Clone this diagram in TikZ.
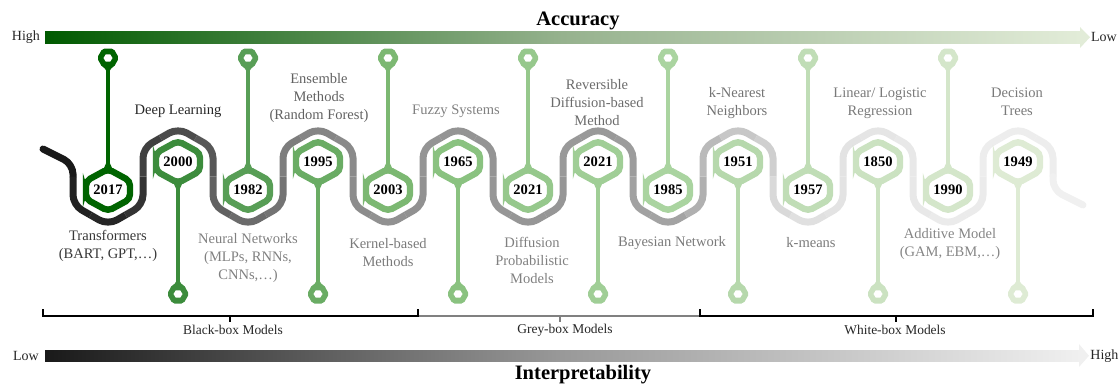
\documentclass[tikz,border=0pt]{standalone}
\usepackage{fontspec}
\setmainfont{Liberation Serif}

\definecolor{accdark}{RGB}{0,90,0}
\definecolor{accmid}{RGB}{150,178,142}
\definecolor{acclight}{RGB}{226,236,216}

\tikzset{
	snake/.style={line width=5.25pt, rounded corners=7.5pt},
	badge/.style={line width=4.8pt, rounded corners=3.5pt, fill=white, draw=#1},
	stem/.style={line width=2.4pt},
	lbl/.style={align=center, font=\fontsize{10.9}{13.5}\selectfont},
	year/.style={font=\fontsize{10.9}{13}\selectfont\bfseries, text=black},
	brace/.style={line width=1.4pt},
	axislbl/.style={font=\fontsize{15.4}{18}\selectfont\bfseries},
	endlbl/.style={font=\fontsize{10.5}{12}\selectfont, text=black!85}
}

\begin{document}
\begin{tikzpicture}[x=0.75pt,y=-0.75pt]
	\useasboundingbox (0,0) rectangle (1120,386);
	
	% accuracy arrow
	\shade[left color=accdark, right color=acclight, middle color=accmid] (45,31.5) rectangle (1080,43);
	\fill[acclight] (1080,27) -- (1090,37.25) -- (1080,48) -- cycle;
	\node[endlbl] (acchigh) at (26,37) {High};
	\node[endlbl] (acclow) at (1104,37) {Low};
	\node[axislbl] (acc) at (578,21) {Accuracy};
	
	% interpretability arrow
	\shade[left color=black!90, right color=black!6, middle color=black!40] (45,350) rectangle (1079,361.5);
	\fill[black!6] (1079,344) -- (1089,355.75) -- (1079,367) -- cycle;
	\node[endlbl] (intlow) at (26,356) {Low};
	\node[endlbl, anchor=east, inner sep=1pt] (inthigh) at (1120,356) {High};
	\node[axislbl] (interp) at (583,375) {Interpretability};
	
	% snake
	\draw[snake, line cap=round, black!90] (43,149) -- (73,164) -- (73,176.5);
	\foreach \i/\ca/\cb/\cc in {0/87/85/80,1/75/70/66,2/62/58/55,3/51/48/46,4/45/43/43,5/42/42/42,6/41/41/41,7/40/40/39,8/37/36/31,9/27/22/19,10/15/12/11,11/11/10/9,12/9/8/8,13/7/7/7}{
		\pgfmathsetmacro\xc{108+70*\i}
		\pgfmathsetmacro\sg{1-2*mod(\i,2)}
		\pgfmathsetmacro\yc{176.5+28.5*\sg}
		\pgfmathsetmacro\yd{176.5+38.5*\sg}
		\pgfmathsetmacro\ya{176.5+48.5*\sg}
		\draw[snake, black!\ca] (\xc-35,176.5) -- (\xc-35,\yc) -- (\xc-17.5,\yd);
		\draw[snake, black!\cb] (\xc-17.5,\yd) -- (\xc,\ya) -- (\xc+17.5,\yd);
		\draw[snake, black!\cc] (\xc+17.5,\yd) -- (\xc+35,\yc) -- (\xc+35,176.5);
	}
	\draw[snake, line cap=round, black!6] (1053,176.5) -- (1053,190) -- (1083,205);
	
	% badges, stems and pins
	\foreach \i/\yr/\ra/\ga/\ba in {0/2017/0/100/0,1/2000/60/140/60,2/1982/88/158/86,3/1995/106/172/100,4/2003/124/184/114,5/1965/138/194/128,6/2021/150/200/140,7/2021/160/206/150,8/1985/170/212/160,9/1951/182/216/172,10/1957/192/221/182,11/1850/203/226/193,12/1990/212/230/202,13/1949/222/235/212}{
		\definecolor{bc}{RGB}{\ra,\ga,\ba}
		\pgfmathsetmacro\xc{108+70*\i}
		\pgfmathsetmacro\dd{2*mod(\i,2)-1}
		\pgfmathsetmacro\yb{176-14*\dd}
		\pgfmathsetmacro\yp{176+118*\dd}
		\draw[stem, bc] (\xc,\yb+19*\dd) -- (\xc,\yp);
		\draw[badge=bc] (\xc-22,\yb) -- (\xc-22,\yb-9) -- (\xc,\yb-21) -- (\xc+22,\yb-9) -- (\xc+22,\yb+9) -- (\xc,\yb+21) -- (\xc-22,\yb+9) -- cycle;
		\fill[bc] (\xc-13,\yb+13.5*\dd) .. controls (\xc-6,\yb+17.3*\dd) and (\xc-1.2,\yb+24*\dd) .. (\xc-1.2,\yb+32*\dd) -- (\xc+1.2,\yb+32*\dd) .. controls (\xc+1.2,\yb+24*\dd) and (\xc+6,\yb+17.3*\dd) .. (\xc+13,\yb+13.5*\dd) -- (\xc,\yb+19*\dd) -- cycle;
		\fill[bc, rounded corners=1.5pt] (\xc,\yp-9.5) -- (\xc+5.5,\yp-9.5) -- (\xc+11,\yp) -- (\xc+5.5,\yp+9.5) -- (\xc-5.5,\yp+9.5) -- (\xc-11,\yp) -- (\xc-5.5,\yp-9.5) -- cycle;
		\fill[bc] (\xc-7.5,\yp-6.5*\dd) .. controls (\xc-4,\yp-10*\dd) and (\xc-1.2,\yp-11*\dd) .. (\xc-1.2,\yp-16*\dd) -- (\xc+1.2,\yp-16*\dd) .. controls (\xc+1.2,\yp-11*\dd) and (\xc+4,\yp-10*\dd) .. (\xc+7.5,\yp-6.5*\dd) -- cycle;
		\fill[white] (\xc+4.5,\yp) -- (\xc+2.25,\yp-3.6) -- (\xc-2.25,\yp-3.6) -- (\xc-4.5,\yp) -- (\xc-2.25,\yp+3.6) -- (\xc+2.25,\yp+3.6) -- cycle;
		\node[year] (yr\i) at (\xc,\yb) {\yr};
	}
	
	% method labels
	\node[lbl, text=black!78] (transf) at (108,246) {Transformers\\(BART, GPT,…)};
	\node[lbl, text=black!85] (deepl) at (178,111) {Deep Learning};
	\node[lbl, text=black!50] (neural) at (248,258) {Neural Networks\\(MLPs, RNNs,\\CNNs,…)};
	\node[lbl, text=black!62] (ensemble) at (319,98) {Ensemble\\Methods\\(Random Forest)};
	\node[lbl, text=black!52] (kernel) at (388,253) {Kernel-based\\Methods};
	\node[lbl, text=black!50] (fuzzy) at (456,111) {Fuzzy Systems};
	\node[lbl, text=black!50] (diffprob) at (532,260) {Diffusion\\Probabilistic\\Models};
	\node[lbl, text=black!58] (revdiff) at (597,103) {Reversible\\Diffusion-based\\Method};
	\node[lbl, text=black!52] (bayes) at (672,243) {Bayesian Network};
	\node[lbl, text=black!55] (knn) at (737,103.5) {k-Nearest\\Neighbors};
	\node[lbl, text=black!52] (kmeans) at (811,243) {k-means};
	\node[lbl, text=black!52] (linreg) at (880,103.5) {Linear/ Logistic\\Regression};
	\node[lbl, text=black!48] (additive) at (950,244) {Additive Model\\(GAM, EBM,…)};
	\node[lbl, text=black!52] (dtree) at (1017,102) {Decision\\Trees};
	
	% model groups
	\draw[brace, black!50] (418,316) -- (700,316);
	\draw[brace, black!50] (560,316) -- (560,322);
	\draw[brace] (43,309) -- (43,316) -- (418,316) -- (418,309);
	\draw[brace] (230,316) -- (230,322);
	\draw[brace] (700,309) -- (700,316) -- (1093,316) -- (1093,309);
	\draw[brace] (896,316) -- (896,322);
	\node[font=\fontsize{10.1}{12}\selectfont, text=black!85] (blackbox) at (233,330) {Black-box Models};
	\node[font=\fontsize{10.1}{12}\selectfont, text=black!85] (greybox) at (565,330) {Grey-box Models};
	\node[font=\fontsize{10.1}{12}\selectfont, text=black!85] (whitebox) at (895,330) {White-box Models};
	
\end{tikzpicture}
\end{document}
